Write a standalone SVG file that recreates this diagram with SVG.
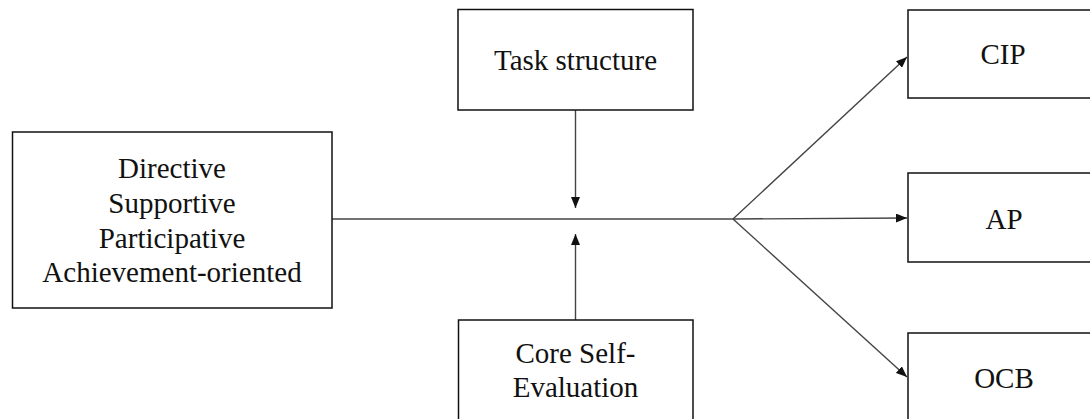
<svg xmlns="http://www.w3.org/2000/svg" width="1090" height="419" viewBox="0 0 1090 419">
<style>
.box{fill:#fff;stroke:#111;stroke-width:1.5}
.lbl{font-family:"Liberation Serif","Times New Roman",serif;font-size:29px;fill:#111;text-anchor:middle}
.con{stroke:#444;stroke-width:1.4;fill:none}
</style>
<defs>
<marker id="ah" markerWidth="11" markerHeight="9" refX="11" refY="4.5" orient="auto" markerUnits="userSpaceOnUse">
<path d="M0,0 L11,4.5 L0,9 Z" fill="#111"/>
</marker>
</defs>
<rect width="1090" height="419" fill="#fff"/>
<g id="connectors">
<line class="con" x1="332" y1="219" x2="733" y2="219"/>
<line class="con" x1="733" y1="219" x2="907" y2="218" marker-end="url(#ah)"/>
<line class="con" x1="733" y1="219" x2="907" y2="57" marker-end="url(#ah)"/>
<line class="con" x1="733" y1="219" x2="907" y2="377" marker-end="url(#ah)"/>
<line class="con" x1="575.5" y1="110" x2="575.5" y2="208" marker-end="url(#ah)"/>
<line class="con" x1="575.5" y1="320" x2="575.5" y2="234" marker-end="url(#ah)"/>
</g>
<g id="styles">
<rect class="box" x="12.5" y="132" width="319.5" height="176"/>
<text class="lbl" x="172" y="178">Directive</text>
<text class="lbl" x="172" y="213">Supportive</text>
<text class="lbl" x="172" y="248">Participative</text>
<text class="lbl" x="172" y="282">Achievement-oriented</text>
</g>
<g id="task">
<rect class="box" x="458" y="9.5" width="235" height="100.5"/>
<text class="lbl" x="575.5" y="70">Task structure</text>
</g>
<g id="cse">
<rect class="box" x="458.5" y="320" width="234.5" height="110"/>
<text class="lbl" x="575.5" y="363">Core Self-</text>
<text class="lbl" x="575.5" y="397">Evaluation</text>
</g>
<g id="cip">
<rect class="box" x="908" y="10" width="200" height="88"/>
<text class="lbl" x="1003" y="64">CIP</text>
</g>
<g id="ap">
<rect class="box" x="908" y="173" width="200" height="89"/>
<text class="lbl" x="1004" y="229">AP</text>
</g>
<g id="ocb">
<rect class="box" x="908" y="333" width="200" height="100"/>
<text class="lbl" x="1004" y="388">OCB</text>
</g>
</svg>
